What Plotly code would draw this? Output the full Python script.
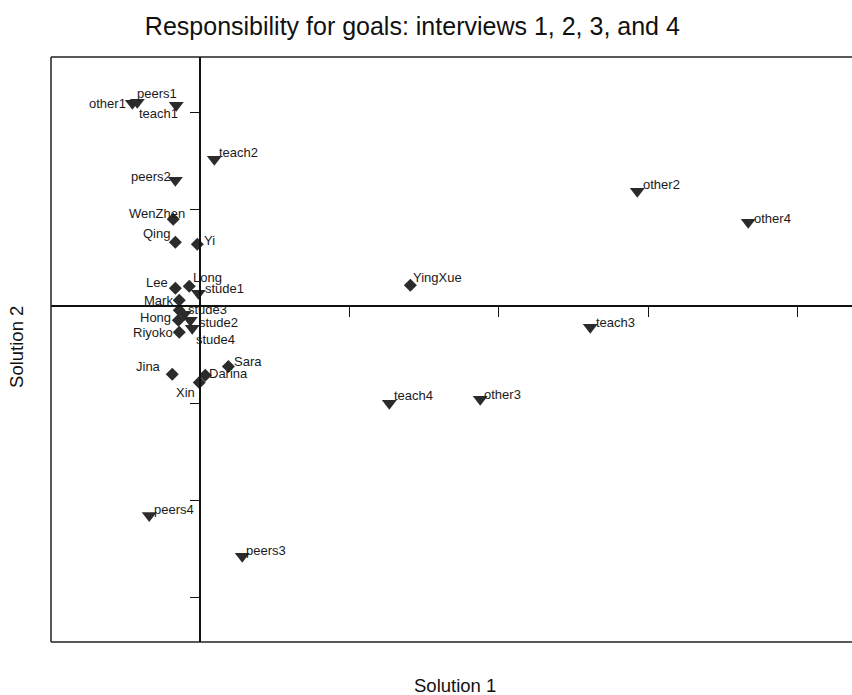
import plotly.graph_objects as go

# Interview stimuli (triangles): goal-responsibility categories per interview
stim_names = ["other1", "peers1", "teach1", "teach2", "peers2", "other2", "other4",
              "stude1", "stude3", "stude2", "stude4", "teach3", "teach4", "other3",
              "peers4", "peers3"]
stim_x = [-0.455, -0.422, -0.161, 0.094, -0.167, 2.927, 3.670,
          -0.013, -0.107, -0.067, -0.054, 2.612, 1.266, 1.875,
          -0.342, 0.281]
stim_y = [2.093, 2.103, 2.072, 1.515, 1.299, 1.186, 0.866,
          0.134, -0.082, -0.144, -0.227, -0.216, -1.000, -0.959,
          -2.155, -2.577]

# Participants (diamonds)
subj_names = ["WenZhen", "Qing", "Yi", "YingXue", "Lee", "Long", "Mark", "",
              "Hong", "Riyoko", "Jina", "Sara", "Darina", "Xin"]
subj_x = [-0.181, -0.167, -0.020, 1.407, -0.167, -0.074, -0.141, -0.141,
          -0.147, -0.141, -0.188, 0.188, 0.033, -0.007]
subj_y = [0.897, 0.660, 0.639, 0.216, 0.186, 0.206, 0.062, -0.041,
          -0.144, -0.268, -0.701, -0.619, -0.711, -0.784]

x_ticks = [1, 2, 3, 4]
y_ticks = [-3, -2, -1, 1, 2]
x_range = [-1.0, 4.365]
y_range = [-3.46, 2.57]

# label placement: (anchor side, x shift px, y shift px)
label_place = {
    "other1": ("right", -4, 0), "peers1": ("left", -2, 9), "teach1": ("right", 4, -8),
    "teach2": ("left", 3, 7), "peers2": ("right", -2, 4), "other2": ("left", 4, 7),
    "other4": ("left", 4, 4), "stude1": ("left", 5, 5), "stude3": ("left", 2, 5),
    "stude2": ("left", 7, -2), "stude4": ("left", 2, -11), "teach3": ("left", 4, 5),
    "teach4": ("left", 3, 8), "other3": ("left", 2, 5), "peers4": ("left", 3, 6),
    "peers3": ("left", 2, 6),
    "WenZhen": ("right", 14, 6), "Qing": ("right", -3, 9), "Yi": ("left", 5, 4),
    "YingXue": ("left", 1, 8), "Lee": ("right", -5, 6), "Long": ("left", 2, 9),
    "Mark": ("right", -4, 0), "Hong": ("right", -5, 3), "Riyoko": ("right", -4, 0),
    "Jina": ("right", -9, 8), "Sara": ("left", 4, 5), "Darina": ("left", 2, 2),
    "Xin": ("right", -2, -10),
}

FONT = "Liberation Sans, Arial, Helvetica, sans-serif"
INK = "#2b2b2b"

fig = go.Figure()
fig.add_trace(go.Scatter(
    x=stim_x, y=stim_y, mode="markers", name="stimuli",
    marker=dict(symbol="triangle-down", size=13, color=INK),
    hoverinfo="text", text=stim_names))
fig.add_trace(go.Scatter(
    x=subj_x, y=subj_y, mode="markers", name="participants",
    marker=dict(symbol="diamond", size=10, color=INK),
    hoverinfo="text", text=subj_names))

annotations = []
for names, xs, ys in ((stim_names, stim_x, stim_y), (subj_names, subj_x, subj_y)):
    for n, xv, yv in zip(names, xs, ys):
        if not n:
            continue
        side, dx, dy = label_place[n]
        annotations.append(dict(
            x=xv, y=yv, xref="x", yref="y", text=n, showarrow=False,
            xanchor=side, yanchor="middle", xshift=dx, yshift=dy,
            font=dict(family=FONT, size=13, color="#1a1a1a")))

annotations += [
    dict(text="Solution 1", xref="paper", yref="paper", x=0.504, y=-0.075,
         showarrow=False, xanchor="center", yanchor="middle",
         font=dict(family=FONT, size=18.5, color="#111")),
    dict(text="Solution 2", xref="paper", yref="paper", x=-0.044, y=0.504,
         showarrow=False, xanchor="center", yanchor="middle", textangle=-90,
         font=dict(family=FONT, size=18.5, color="#111")),
]

# position of the crossing axes inside the plotting area
x_axis_pos = (0 - y_range[0]) / (y_range[1] - y_range[0])
y_axis_pos = (0 - x_range[0]) / (x_range[1] - x_range[0])

frame = dict(color="#222", width=1.5)
shapes = [
    dict(type="line", xref="paper", yref="paper", x0=0, x1=0, y0=0, y1=1, line=frame),
    dict(type="line", xref="paper", yref="paper", x0=0, x1=1, y0=1, y1=1, line=frame),
    dict(type="line", xref="paper", yref="paper", x0=0, x1=1, y0=0, y1=0, line=frame),
]

fig.update_layout(
    width=852, height=695,
    margin=dict(l=51, r=0, t=57, b=53),
    paper_bgcolor="white", plot_bgcolor="white",
    showlegend=False,
    title=dict(text="Responsibility for goals: interviews 1, 2, 3, and 4",
               x=0.484, xanchor="center", y=1 - 26 / 695, yanchor="middle",
               xref="container", yref="container",
               font=dict(family=FONT, size=25, color="#111")),
    xaxis=dict(range=x_range, anchor="free", position=x_axis_pos,
               showline=True, linecolor="#111", linewidth=1.5,
               tickvals=x_ticks, ticks="outside", ticklen=10, tickwidth=1,
               tickcolor="#111", showticklabels=False, showgrid=False,
               zeroline=False),
    yaxis=dict(range=y_range, anchor="free", position=y_axis_pos,
               showline=True, linecolor="#111", linewidth=1.5,
               tickvals=y_ticks, ticks="outside", ticklen=10, tickwidth=1,
               tickcolor="#111", showticklabels=False, showgrid=False,
               zeroline=False),
    annotations=annotations,
    shapes=shapes,
)

fig.write_html("out.html")
